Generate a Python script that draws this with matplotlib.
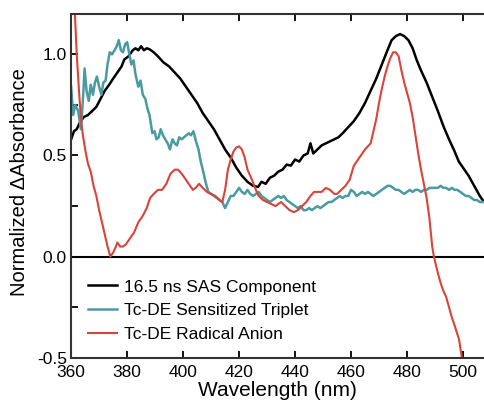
import matplotlib
matplotlib.use("Agg")
import matplotlib.pyplot as plt
from matplotlib.ticker import MultipleLocator, FixedLocator

plt.rcParams['font.family'] = ['Liberation Sans', 'DejaVu Sans']
plt.rcParams['axes.unicode_minus'] = False

# 16.5 ns SAS component
sas_wl = [360, 361, 362, 363, 364.5, 366, 367.5, 369, 370.5, 372, 373.6, 375, 376.5, 378,
          379, 380.5, 382, 383, 384, 385, 386, 387, 388, 389.5, 391, 393, 395, 397, 399,
          401, 403, 405, 407, 409, 411, 413, 415, 417, 419, 421, 423, 425, 426.8, 428,
          429.5, 431, 432.5, 434, 435.5, 437, 438.5, 440, 441.5, 443, 444.5, 445.5, 446.5,
          448, 449.5, 451, 452.5, 454, 455.5, 457, 459, 461, 463, 465, 467, 469, 471, 473,
          474.5, 476, 477.5, 479, 480.5, 482, 483.5, 485, 487, 489, 491, 493, 495, 497,
          498.5, 500, 502, 504, 506, 507]
sas_val = [0.58, 0.62, 0.63, 0.66, 0.69, 0.70, 0.72, 0.74, 0.78, 0.82, 0.85, 0.88, 0.91, 0.94,
           0.975, 0.99, 1.02, 1.03, 1.02, 1.04, 1.02, 1.03, 1.025, 1.01, 0.99, 0.96, 0.94,
           0.91, 0.88, 0.84, 0.80, 0.76, 0.71, 0.67, 0.63, 0.58, 0.53, 0.49, 0.44, 0.40,
           0.37, 0.35, 0.345, 0.37, 0.36, 0.39, 0.40, 0.42, 0.43, 0.455, 0.45, 0.48, 0.47,
           0.50, 0.51, 0.56, 0.51, 0.53, 0.55, 0.56, 0.57, 0.58, 0.59, 0.61, 0.64, 0.67,
           0.71, 0.76, 0.82, 0.88, 0.95, 1.02, 1.07, 1.09, 1.10, 1.09, 1.07, 1.03, 0.97,
           0.92, 0.86, 0.79, 0.72, 0.645, 0.58, 0.52, 0.47, 0.44, 0.40, 0.35, 0.30, 0.28]

# Tc-DE sensitized triplet
trip_wl = [360, 360.7, 361.5, 362.5, 363.5, 364.3, 364.8, 365.5, 366.3, 367, 367.8, 368.5,
           369.2, 370, 370.8, 371.5, 372.3, 373, 373.8, 374.6, 375.5, 376.3, 377, 377.8,
           378.5, 379.3, 380, 380.8, 381.5, 382.3, 383, 384, 384.8, 385.6, 386.5, 387.3,
           388, 389, 389.8, 390.5, 391.3, 392, 392.8, 393.6, 394.5, 395.3, 396.2, 397,
           397.8, 398.6, 399.5, 400.3, 401.2, 402, 402.8, 403.7, 404.6, 405.5, 406.3,
           407.2, 408, 409, 410, 411, 412, 413, 414, 415, 416, 417, 418, 419, 420, 421,
           422, 423, 424, 425, 426, 427, 428, 429, 430, 431, 432, 433, 434, 435, 436, 437,
           438, 439, 440, 441, 442, 443, 444, 445, 446, 447, 448, 449, 450, 451, 452, 453,
           454, 455, 456, 457, 458, 459, 460, 461, 462, 463, 464, 465, 466, 467, 468, 469,
           470, 471, 472, 473, 474, 475, 476, 477, 478, 479, 480, 481, 482, 483, 484, 485,
           486, 487, 488, 489, 490, 491, 492, 493, 494, 495, 496, 497, 498, 499, 500, 501,
           502, 503, 504, 505, 506, 507]
trip_val = [0.84, 0.70, 0.75, 0.72, 0.63, 0.80, 0.93, 0.82, 0.77, 0.85, 0.80, 0.86, 0.89,
            0.84, 0.80, 0.86, 0.87, 0.95, 1.01, 1.00, 1.02, 1.04, 1.07, 1.02, 1.01, 1.05,
            1.06, 1.00, 0.95, 0.97, 0.90, 0.84, 0.87, 0.80, 0.78, 0.73, 0.70, 0.61, 0.62,
            0.58, 0.59, 0.63, 0.60, 0.58, 0.56, 0.53, 0.58, 0.56, 0.55, 0.59, 0.58, 0.59,
            0.60, 0.61, 0.60, 0.62, 0.57, 0.53, 0.47, 0.42, 0.37, 0.32, 0.31, 0.30, 0.29,
            0.28, 0.27, 0.24, 0.27, 0.30, 0.30, 0.32, 0.34, 0.32, 0.31, 0.33, 0.31, 0.30,
            0.31, 0.32, 0.30, 0.29, 0.28, 0.27, 0.28, 0.29, 0.30, 0.29, 0.30, 0.28, 0.27,
            0.26, 0.25, 0.24, 0.25, 0.23, 0.23, 0.24, 0.23, 0.24, 0.25, 0.24, 0.25, 0.26,
            0.27, 0.27, 0.28, 0.29, 0.30, 0.29, 0.30, 0.30, 0.33, 0.32, 0.30, 0.31, 0.32,
            0.31, 0.32, 0.31, 0.30, 0.31, 0.32, 0.33, 0.34, 0.35, 0.35, 0.34, 0.33, 0.33,
            0.32, 0.31, 0.32, 0.33, 0.32, 0.33, 0.33, 0.32, 0.33, 0.33, 0.34, 0.34, 0.34,
            0.34, 0.35, 0.34, 0.34, 0.33, 0.34, 0.33, 0.33, 0.32, 0.31, 0.30, 0.30, 0.29,
            0.28, 0.28, 0.27, 0.27]

# Tc-DE radical anion
anion_wl = [361, 362, 362.8, 363.5, 364.2, 365, 366, 367, 368, 369, 370, 371, 372, 373, 374,
            375, 376, 376.5, 377.5, 378.5, 379.5, 381, 382.5, 384, 385.5, 387, 388.2, 389.5,
            391, 392.5, 394, 395.5, 397, 398.2, 399.5, 401, 402.5, 403.5, 404.5, 405.7, 407,
            408.5, 410, 411.5, 413, 414, 415, 416, 417, 418, 419, 420, 421, 422, 423, 424.6,
            426, 427, 428.5, 430, 431.5, 433, 434, 435, 436.5, 438, 439.6, 441, 442.5, 444,
            445.5, 446.8, 448, 449.5, 451, 452.5, 454, 455, 456.5, 458, 459.5, 461, 462.5,
            464, 465, 466, 467, 468, 469, 470, 471, 472, 473, 474, 475, 476, 477, 478, 479,
            480, 481, 482, 483, 484, 485, 486, 487, 488, 489, 489.6, 491, 492, 493, 494,
            495, 496, 497, 498.6, 499.6, 500.5]
anion_val = [1.30, 1.00, 0.82, 0.68, 0.60, 0.53, 0.46, 0.42, 0.35, 0.30, 0.23, 0.17, 0.11,
             0.05, 0.0, 0.02, 0.05, 0.07, 0.05, 0.05, 0.06, 0.09, 0.12, 0.17, 0.20, 0.24,
             0.29, 0.31, 0.33, 0.33, 0.36, 0.41, 0.43, 0.43, 0.41, 0.38, 0.35, 0.33, 0.34,
             0.36, 0.34, 0.32, 0.31, 0.30, 0.28, 0.27, 0.33, 0.43, 0.48, 0.52, 0.54, 0.545,
             0.53, 0.49, 0.43, 0.38, 0.33, 0.30, 0.28, 0.27, 0.26, 0.25, 0.26, 0.27, 0.25,
             0.23, 0.22, 0.23, 0.25, 0.27, 0.30, 0.32, 0.32, 0.32, 0.34, 0.33, 0.31, 0.31,
             0.33, 0.35, 0.38, 0.45, 0.48, 0.51, 0.53, 0.545, 0.56, 0.62, 0.68, 0.76, 0.83,
             0.89, 0.94, 0.98, 1.01, 1.01, 0.99, 0.92, 0.86, 0.81, 0.76, 0.69, 0.60, 0.51,
             0.43, 0.36, 0.29, 0.19, 0.05, 0.0, -0.08, -0.13, -0.17, -0.20, -0.25, -0.30,
             -0.34, -0.41, -0.50, -0.58]

labels = ["16.5 ns SAS Component", "Tc-DE Sensitized Triplet", "Tc-DE Radical Anion"]
colors = ["black", "#4a9aa2", "#d8443a"]

fig = plt.figure(figsize=(4.84, 4.08), dpi=100)
ax = fig.add_axes([0.147, 0.123, 0.853, 0.843])

ax.axhline(0, color="black", lw=1.5, zorder=1)
ax.plot(sas_wl, sas_val, color=colors[0], lw=1.8, label=labels[0])
ax.plot(trip_wl, trip_val, color=colors[1], lw=1.8, label=labels[1])
ax.plot(anion_wl, anion_val, color=colors[2], lw=1.5, label=labels[2])

ax.set_xlim(360, 507.5)
ax.set_ylim(-0.5, 1.2)
ax.xaxis.set_major_locator(MultipleLocator(20))
ax.yaxis.set_major_locator(FixedLocator([-0.5, 0.0, 0.5, 1.0]))
ax.yaxis.set_minor_locator(FixedLocator([-0.25, 0.25, 0.75]))
ax.tick_params(which="both", direction="in", top=True, right=False, width=1.3,
               labelsize=12.5, length=5)
ax.tick_params(axis="x", pad=5)
ax.tick_params(axis="y", pad=3)
ax.set_yticklabels(["-0.5", "0.0", "0.5", "1.0"])
for side in ["left", "bottom", "top"]:
    ax.spines[side].set_linewidth(1.5)
    ax.spines[side].set_color("#333333")
ax.spines["right"].set_visible(False)

ax.set_xlabel("Wavelength (nm)", fontsize=15, labelpad=1)
ax.set_ylabel("Normalized ΔAbsorbance", fontsize=14.5, labelpad=4)
ax.yaxis.set_label_coords(-0.103, 0.51)

ax.legend(loc="upper left", bbox_to_anchor=(0.04, 0.228), frameon=False, fontsize=12.5,
          handlelength=1.7, handletextpad=0.4, labelspacing=0.5, borderpad=0,
          borderaxespad=0)

fig.savefig("out.png", dpi=100)
